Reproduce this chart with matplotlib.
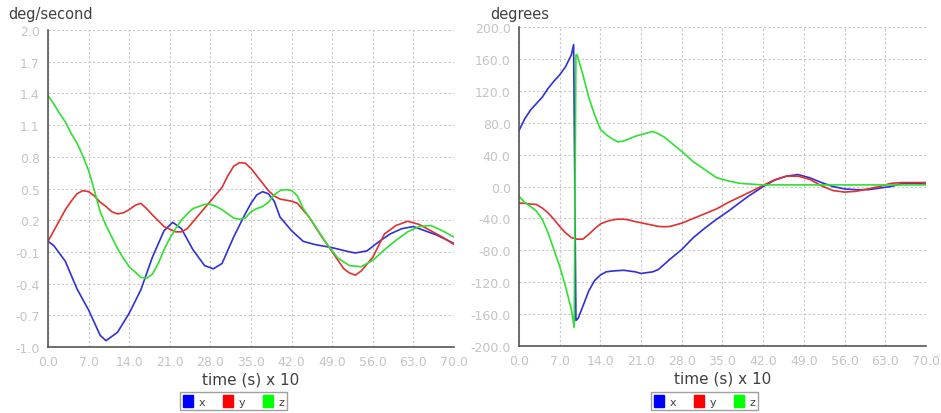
import matplotlib.pyplot as plt
from matplotlib.patches import Patch

# ---- data: angular rate (deg/second) ----
rate_x_t = [0, 1, 3, 5, 7, 9, 10, 12, 14, 16, 18, 20, 21.5, 23, 25, 27, 28.5, 30, 32, 34,
            35, 36, 37, 38, 39, 40, 42, 44, 46, 49, 52, 53, 55, 57, 59, 61, 63, 65, 67, 70]
rate_x_v = [0.0, -0.04, -0.19, -0.45, -0.65, -0.89, -0.94, -0.86, -0.68, -0.46, -0.15, 0.1, 0.18, 0.12,
            -0.08, -0.23, -0.26, -0.21, 0.04, 0.26, 0.36, 0.44, 0.47, 0.45, 0.38, 0.23, 0.1, 0.0,
            -0.03, -0.06, -0.1, -0.11, -0.09, -0.005, 0.07, 0.12, 0.14, 0.1, 0.06, -0.02]

rate_y_t = [0, 2, 3, 4, 5, 6, 7, 8, 9, 10, 11, 12, 13, 14, 15, 16, 17, 18, 20, 22, 23, 24, 26, 28,
            30, 31, 32, 33, 34, 35, 36, 37, 38, 39, 40, 41, 42, 43, 45, 47, 49, 51, 52, 53, 54,
            56, 58, 60, 62, 64, 66, 68, 70]
rate_y_v = [0.0, 0.2, 0.3, 0.38, 0.45, 0.48, 0.47, 0.43, 0.37, 0.33, 0.28, 0.26, 0.27, 0.3, 0.34,
            0.36, 0.31, 0.25, 0.14, 0.09, 0.09, 0.12, 0.25, 0.38, 0.51, 0.62, 0.71, 0.745, 0.74,
            0.69, 0.62, 0.55, 0.48, 0.43, 0.4, 0.39, 0.38, 0.36, 0.23, 0.06, -0.1, -0.26, -0.3,
            -0.32, -0.28, -0.15, 0.07, 0.15, 0.19, 0.16, 0.1, 0.04, -0.03]

rate_z_t = [0, 1, 2, 3, 4, 5, 6, 7, 8, 9, 10, 11, 12, 13, 14, 15, 16, 17, 18, 19, 20, 21, 22, 23,
            24, 25, 26, 27, 28, 29, 30, 31, 32, 33, 34, 35, 36, 37, 38, 39, 40, 41, 42, 43, 44,
            46, 48, 50, 52, 54, 56, 58, 60, 62, 64, 66, 68, 70]
rate_z_v = [1.38, 1.3, 1.21, 1.13, 1.02, 0.93, 0.81, 0.67, 0.48, 0.28, 0.15, 0.04, -0.07, -0.16,
            -0.24, -0.29, -0.34, -0.35, -0.31, -0.21, -0.08, 0.03, 0.12, 0.2, 0.26, 0.31, 0.33,
            0.35, 0.35, 0.33, 0.3, 0.26, 0.22, 0.21, 0.22, 0.28, 0.31, 0.33, 0.37, 0.44, 0.48,
            0.49, 0.48, 0.43, 0.31, 0.15, -0.02, -0.16, -0.23, -0.24, -0.18, -0.08, 0.01, 0.09,
            0.14, 0.15, 0.1, 0.04]

# ---- data: orientation (degrees) ----
ang_x_t = [0, 1, 2, 3, 4, 5, 6, 7, 8, 9, 9.4, 9.8, 10.2, 11, 12, 13, 14, 15, 16, 18, 20, 21, 22,
           23, 24, 26, 28, 30, 32, 34, 36, 38, 39.4, 42, 44, 46, 48, 50, 52, 54, 56, 58, 60, 62,
           64, 66, 68, 70]
ang_x_v = [70, 85, 96, 104, 112, 123, 132, 140, 150, 165, 178, -168, -165, -150, -131, -118, -111,
           -107, -106, -105, -107, -109, -108, -107, -104, -91, -79, -64, -52, -41, -31, -20,
           -12.5, 0, 8, 13, 15, 11, 5, 0, -3, -4, -4, -2, 0, 4, 4, 3]

ang_y_t = [0, 1, 2, 3, 4, 5, 6, 7, 8, 9, 10, 11, 12, 13, 14, 15, 16, 17, 18, 19, 20, 22, 24, 25,
           26, 28, 30, 32, 34, 36, 38, 40, 42, 44, 46, 48, 50, 52, 54, 56, 58, 60, 62, 64, 66,
           68, 70]
ang_y_v = [-21, -21, -22, -22.5, -27, -33, -41, -50, -58, -64, -66, -66, -60, -53, -47, -44, -42,
           -41, -41, -42, -44, -47, -50, -50.5, -50, -46, -40, -34, -28, -20, -13, -6, 1.5, 8.5,
           13, 13, 9, 1, -5, -7, -6, -3, 0, 4, 5, 5, 5]

ang_z_t = [0, 1, 2, 3, 4, 5, 6, 7, 8, 9, 9.5, 9.8, 10, 11, 12, 13, 14, 15, 16, 17, 18, 19, 20, 21,
           22, 23, 24, 25, 26, 28, 30, 32, 34, 36, 38, 40, 42, 50, 60, 70]
ang_z_v = [-12, -20, -25, -31, -41, -58, -79, -100, -125, -154, -177, 165, 165, 140, 112, 90, 72,
           65, 60, 56, 57, 60, 63, 65, 67, 69, 66, 62, 56, 44, 31, 21, 11, 7, 4, 3, 2, 2, 2, 2]

x_ticks = [0, 7, 14, 21, 28, 35, 42, 49, 56, 63, 70]
rate_ticks = [-1.0, -0.7, -0.4, -0.1, 0.2, 0.5, 0.8, 1.1, 1.4, 1.7, 2.0]
ang_ticks = [-200, -160, -120, -80, -40, 0, 40, 80, 120, 160, 200]

line_colors = ['#3030d8', '#e03030', '#30e030']
patch_colors = ['#0000ff', '#ff0000', '#00ff00']
tick_grey = '#c4c4c4'
text_grey = '#404040'

fig = plt.figure(figsize=(9.41, 4.14), dpi=100)
ax1 = fig.add_axes([0.051, 0.1594, 0.4315, 0.7657])
ax2 = fig.add_axes([0.5515, 0.1618, 0.4325, 0.7705])


def style_axis(ax, yticks, ylim, title, tx):
    ax.set_xlim(0, 70)
    ax.set_ylim(*ylim)
    ax.set_xticks(x_ticks)
    ax.set_xticklabels([f'{t:.1f}' for t in x_ticks])
    ax.set_yticks(yticks)
    ax.set_yticklabels([f'{v:.1f}' for v in yticks])
    ax.tick_params(length=0, colors=tick_grey, labelsize=9, pad=6)
    ax.grid(True, color='#c8c8c8', linestyle=(0, (2, 2)), linewidth=0.8)
    ax.set_axisbelow(True)
    for s in ['top', 'right']:
        ax.spines[s].set_visible(False)
    for s in ['left', 'bottom']:
        ax.spines[s].set_color('#555555')
        ax.spines[s].set_linewidth(1.2)
    ax.set_xlabel('time (s) x 10', fontsize=11, color=text_grey, labelpad=2)
    fig.text(tx, 0.965, title, fontsize=10.5, color=text_grey, ha='left', va='center')


ax1.plot(rate_x_t, rate_x_v, color=line_colors[0], lw=1.2)
ax1.plot(rate_y_t, rate_y_v, color=line_colors[1], lw=1.2)
ax1.plot(rate_z_t, rate_z_v, color=line_colors[2], lw=1.2)
style_axis(ax1, rate_ticks, (-1.0, 2.0), 'deg/second', 0.009)

ax2.plot(ang_x_t, ang_x_v, color=line_colors[0], lw=1.2)
ax2.plot(ang_y_t, ang_y_v, color=line_colors[1], lw=1.2)
ax2.plot(ang_z_t, ang_z_v, color=line_colors[2], lw=1.2)
style_axis(ax2, ang_ticks, (-200, 200), 'degrees', 0.521)

# legends below each panel
handles = [Patch(facecolor=c, edgecolor=c) for c in patch_colors]
for cx in [0.248, 0.749]:
    leg = fig.legend(handles, ['x', 'y', 'z'], loc='center', bbox_to_anchor=(cx, 0.029),
                     ncol=3, fontsize=8, frameon=True, fancybox=False, handlelength=0.9,
                     handleheight=1.3, handletextpad=0.5, columnspacing=1.6,
                     borderpad=0.25, labelcolor=text_grey)
    leg.get_frame().set_edgecolor('#888888')
    leg.get_frame().set_linewidth(1.0)

fig.savefig('out.png', dpi=100)
